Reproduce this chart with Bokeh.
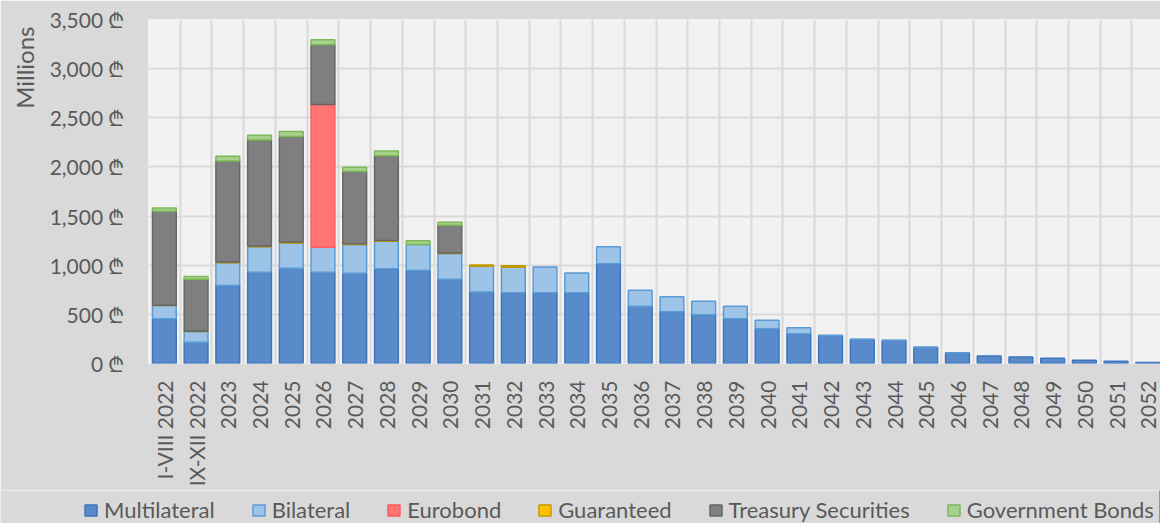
import numpy as np
from bokeh.plotting import figure
from bokeh.models import ColumnDataSource, Range1d, FixedTicker, Legend, LegendItem, Title
from bokeh.embed import file_html
from bokeh.resources import INLINE

categories = ["I-VIII 2022", "IX-XII 2022", "2023", "2024", "2025", "2026", "2027", "2028",
              "2029", "2030", "2031", "2032", "2033", "2034", "2035", "2036", "2037", "2038",
              "2039", "2040", "2041", "2042", "2043", "2044", "2045", "2046", "2047", "2048",
              "2049", "2050", "2051", "2052"]

multilateral = [455, 217, 793, 929, 970, 929, 918, 963, 946, 857, 728, 719, 719, 719, 1014, 583,
                526, 495, 455, 353, 303, 280, 245, 235, 165, 108, 77, 67, 54, 34, 24, 10]
bilateral = [135, 108, 231, 258, 257, 254, 292, 281, 264, 262, 262, 261, 264, 203, 173, 163,
             152, 139, 128, 87, 62, 8, 3, 2, 1, 1, 0, 0, 0, 0, 0, 0]
eurobond = [0, 0, 0, 0, 0, 1451, 0, 0, 0, 0, 0, 0, 0, 0, 0, 0,
            0, 0, 0, 0, 0, 0, 0, 0, 0, 0, 0, 0, 0, 0, 0, 0]
guaranteed = [3, 4, 8, 8, 8, 0, 8, 8, 0, 6, 12, 15, 0, 0, 0, 0,
              0, 0, 0, 0, 0, 0, 0, 0, 0, 0, 0, 0, 0, 0, 0, 0]
treasury = [956, 528, 1029, 1080, 1074, 610, 735, 863, 0, 282, 0, 0, 0, 0, 0, 0,
            0, 0, 0, 0, 0, 0, 0, 0, 0, 0, 0, 0, 0, 0, 0, 0]
gov_bonds = [34, 28, 47, 47, 51, 51, 44, 48, 38, 30, 0, 0, 0, 0, 0, 0,
             0, 0, 0, 0, 0, 0, 0, 0, 0, 0, 0, 0, 0, 0, 0, 0]

series_names = ["Multilateral", "Bilateral", "Eurobond", "Guaranteed", "Treasury Securities", "Government Bonds"]
fill_colors = ["#598BCB", "#9DC3E6", "#FF7575", "#FFC000", "#7F7F7F", "#A9D18E"]
line_colors = ["#3E74BB", "#5B9BD5", "#FF5B5B", "#C49A00", "#666666", "#7DB857"]
y_ticks = [0, 500, 1000, 1500, 2000, 2500, 3000, 3500]

FONT = "Lato"
TXT = "#595959"
BG = "#D9D9D9"

n = len(categories)
x = np.arange(n) + 0.5

p = figure(width=1160, height=490, x_range=Range1d(0, 31.9), y_range=Range1d(0, 3500),
           output_backend="svg", toolbar_location=None,
           min_border_left=148, min_border_right=0, min_border_top=19, min_border_bottom=127,
           background_fill_color="#F2F2F2", border_fill_color=BG, outline_line_color=None)

bottom = np.zeros(n)
for name, vals, fc, lc in zip(series_names,
                              [multilateral, bilateral, eurobond, guaranteed, treasury, gov_bonds],
                              fill_colors, line_colors):
    v = np.array(vals, dtype=float)
    top = bottom + v
    mask = v > 0
    src = ColumnDataSource(dict(x=x[mask], bottom=bottom[mask], top=top[mask]))
    p.vbar(x="x", bottom="bottom", top="top", width=0.75, source=src,
           fill_color=fc, line_color=lc, line_width=1.5)
    bottom = top

# grids
p.xgrid.ticker = FixedTicker(ticks=list(range(0, n + 1)))
p.ygrid.ticker = FixedTicker(ticks=y_ticks)
for g in (p.xgrid, p.ygrid):
    g.grid_line_color = BG
    g.grid_line_width = 2

# x axis
p.xaxis.ticker = FixedTicker(ticks=[float(v) for v in x])
p.xaxis.major_label_overrides = {float(v): c for v, c in zip(x, categories)}
p.xaxis.major_label_orientation = np.pi / 2
p.xaxis.major_label_standoff = 17

# y axis
p.yaxis.ticker = FixedTicker(ticks=y_ticks)
p.yaxis.major_label_overrides = {t: f"{t:,} ₾" for t in y_ticks}
p.yaxis.major_label_standoff = 24

for ax in (p.xaxis, p.yaxis):
    ax.axis_line_color = None
    ax.major_tick_line_color = None
    ax.minor_tick_line_color = None
    ax.major_tick_out = 0
    ax.major_tick_in = 0
    ax.major_label_text_font = FONT
    ax.major_label_text_font_size = "21px"
    ax.major_label_text_color = TXT

p.add_layout(Title(text="Millions", align="right", offset=7, standoff=15, text_font=FONT,
                   text_font_size="24px", text_font_style="normal", text_color=TXT), "left")

# legend strip below the chart (separate root)
lf = figure(width=1160, height=33, x_range=Range1d(0, 1), y_range=Range1d(0, 1),
            output_backend="svg", toolbar_location=None,
            min_border_left=0, min_border_right=0, min_border_top=0, min_border_bottom=0,
            x_axis_location=None, y_axis_location=None,
            background_fill_color=BG, border_fill_color=BG, outline_line_color=None)
lf.grid.visible = False
items = []
for name, fc, lc in zip(series_names, fill_colors, line_colors):
    r = lf.vbar(x=[5], top=[1], width=0.5, fill_color=fc, line_color=lc, line_width=1.5)
    items.append(LegendItem(label=name, renderers=[r]))

legend = Legend(items=items, orientation="horizontal", location=(83, 0),
                glyph_width=15, glyph_height=14, label_standoff=6, spacing=36, padding=0, margin=0,
                label_text_font=FONT, label_text_font_size="22px", label_text_color=TXT,
                border_line_color=None, background_fill_alpha=0)
lf.add_layout(legend, "center")

open("out.html", "w").write(file_html([p, lf], INLINE))
